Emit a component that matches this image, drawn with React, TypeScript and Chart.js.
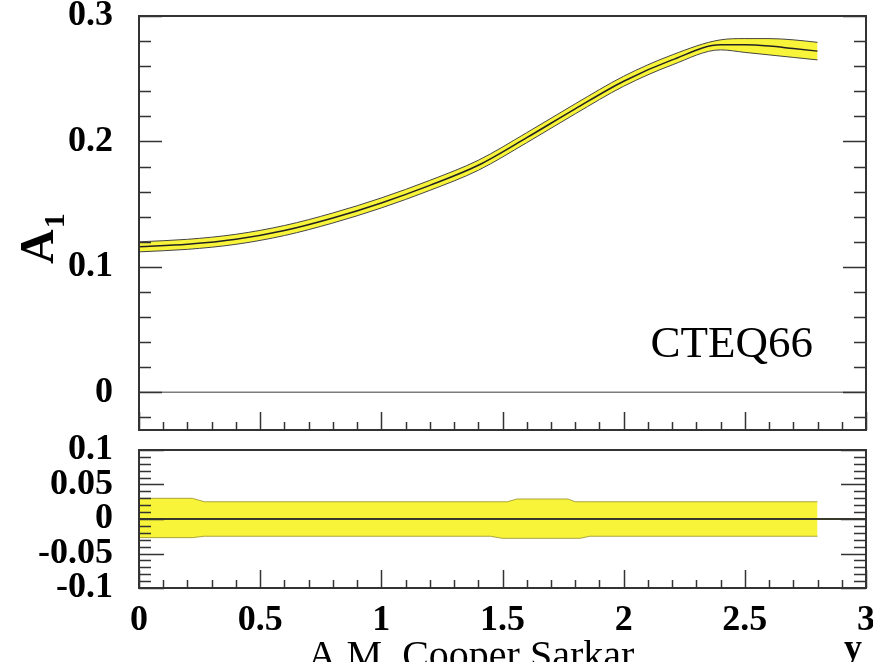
import React, { useEffect, useRef } from "react";
import { Chart, registerables } from "chart.js";

Chart.register(...registerables);

// ---------- data ----------
const rapidity = [0, 0.2, 0.4, 0.6, 0.8, 1.0, 1.2, 1.4, 1.6, 1.8, 2.0, 2.2, 2.4, 2.5, 2.6, 2.7, 2.8];
const a1Central = [0.116, 0.118, 0.122, 0.129, 0.139, 0.151, 0.165, 0.181, 0.203, 0.226, 0.248, 0.265, 0.277, 0.277, 0.276, 0.274, 0.272];
const a1Upper = [0.12, 0.122, 0.126, 0.133, 0.143, 0.155, 0.169, 0.185, 0.207, 0.23, 0.252, 0.269, 0.281, 0.282, 0.282, 0.281, 0.279];
const a1Lower = [0.112, 0.114, 0.118, 0.125, 0.135, 0.147, 0.161, 0.177, 0.199, 0.222, 0.244, 0.261, 0.273, 0.271, 0.269, 0.267, 0.265];

const ratioRapidity = [0, 0.22, 0.27, 1.45, 1.5, 1.52, 1.56, 1.77, 1.8, 1.82, 1.86, 2.8];
const ratioUpper = [0.03, 0.03, 0.025, 0.025, 0.025, 0.025, 0.029, 0.029, 0.025, 0.025, 0.025, 0.025];
const ratioLower = [-0.027, -0.027, -0.025, -0.025, -0.028, -0.028, -0.028, -0.028, -0.028, -0.028, -0.025, -0.025];

const zeroLineX = [0, 3];
const zeroLineY = [0, 0];

const xTickLabels = ["0", "0.5", "1", "1.5", "2", "2.5", "3"];
const topYTickLabels = ["0", "0.1", "0.2", "0.3"];
const bottomYTickLabels = ["-0.1", "-0.05", "0", "0.05", "0.1"];

// ---------- helpers ----------
const pts = (xs: number[], ys: number[]) => xs.map((x, i) => ({ x, y: ys[i] }));
const fmt = (v: number) => String(Math.round(v * 1000) / 1000);
const SERIF = '"Liberation Serif", "Times New Roman", serif';
const YELLOW = "rgb(248,244,58)";
const BOT_TOP = 400; // page y of bottom canvas

type TickCfg = {
  yMinor: number; yMajor: number; yMinorLen: number; yMajorLen: number;
  xMinor: number; xMajor: number; xMinorLen: number; xMajorLen: number;
};

function framePlugin(cfg: TickCfg) {
  return {
    id: "rootFrame",
    afterDatasetsDraw(chart: any) {
      const { ctx, chartArea: a, scales } = chart;
      const xs = scales.x, ys = scales.y;
      ctx.save();
      ctx.strokeStyle = "#333";
      ctx.lineWidth = 1.5;
      const isMaj = (v: number, m: number) => Math.abs(v / m - Math.round(v / m)) < 1e-6;
      for (let i = Math.ceil(ys.min / cfg.yMinor - 1e-9); i <= Math.floor(ys.max / cfg.yMinor + 1e-9); i++) {
        const v = i * cfg.yMinor;
        const p = Math.round(ys.getPixelForValue(v)) + 0.5;
        const len = isMaj(v, cfg.yMajor) ? cfg.yMajorLen : cfg.yMinorLen;
        ctx.beginPath();
        ctx.moveTo(a.left, p); ctx.lineTo(a.left + len, p);
        ctx.moveTo(a.right, p); ctx.lineTo(a.right - len, p);
        ctx.stroke();
      }
      for (let i = Math.ceil(xs.min / cfg.xMinor - 1e-9); i <= Math.floor(xs.max / cfg.xMinor + 1e-9); i++) {
        const v = i * cfg.xMinor;
        const p = Math.round(xs.getPixelForValue(v)) + 0.5;
        const len = isMaj(v, cfg.xMajor) ? cfg.xMajorLen : cfg.xMinorLen;
        ctx.beginPath();
        ctx.moveTo(p, a.bottom); ctx.lineTo(p, a.bottom - len);
        ctx.stroke();
      }
      ctx.lineWidth = 2;
      ctx.strokeRect(a.left, a.top, a.right - a.left, a.bottom - a.top);
      ctx.restore();
    },
  };
}

const tickFont = { family: SERIF, weight: "bold" as const, size: 36 };

export default function App() {
  const topRef = useRef<HTMLCanvasElement>(null);
  const botRef = useRef<HTMLCanvasElement>(null);

  useEffect(() => {
    const topTextPlugin = {
      id: "topText",
      afterDraw(chart: any) {
        const ctx = chart.ctx;
        ctx.save();
        ctx.fillStyle = "#000";
        ctx.font = `45px ${SERIF}`;
        ctx.textAlign = "right";
        ctx.textBaseline = "alphabetic";
        ctx.fillText("CTEQ66", 813, 357);
        ctx.translate(53, 264);
        ctx.rotate(-Math.PI / 2);
        ctx.textAlign = "left";
        ctx.font = `bold 48px ${SERIF}`;
        ctx.fillText("A", 0, 0);
        const w = ctx.measureText("A").width;
        ctx.font = `bold 30px ${SERIF}`;
        ctx.fillText("1", w + 1, 11);
        ctx.restore();
      },
    };
    const botTextPlugin = {
      id: "botText",
      afterDraw(chart: any) {
        const ctx = chart.ctx;
        ctx.save();
        ctx.fillStyle = "#000";
        ctx.textBaseline = "alphabetic";
        ctx.textAlign = "center";
        ctx.font = `40px ${SERIF}`;
        ctx.fillText("A.M. Cooper Sarkar", 471, 668 - BOT_TOP);
        ctx.font = `bold 36px ${SERIF}`;
        ctx.fillText("y", 853, 659 - BOT_TOP);
        ctx.restore();
      },
    };

    const top = new Chart(topRef.current!, {
      type: "line",
      data: {
        datasets: [
          { data: pts(rapidity, a1Central), borderColor: "#222", borderWidth: 1.5, pointRadius: 0, cubicInterpolationMode: "monotone", fill: false },
          { data: pts(rapidity, a1Upper), borderColor: "#444", borderWidth: 1, pointRadius: 0, cubicInterpolationMode: "monotone", fill: "+1", backgroundColor: YELLOW },
          { data: pts(rapidity, a1Lower), borderColor: "#444", borderWidth: 1, pointRadius: 0, cubicInterpolationMode: "monotone", fill: false },
          { data: pts(zeroLineX, zeroLineY), borderColor: "rgba(110,110,110,0.9)", borderWidth: 1.5, pointRadius: 0, fill: false },
        ],
      },
      options: {
        responsive: false,
        animation: false,
        devicePixelRatio: 1,
        layout: { padding: { left: 0, top: 16, right: 34, bottom: 10 } },
        plugins: { legend: { display: false }, tooltip: { enabled: false }, filler: { drawTime: "beforeDatasetsDraw" } },
        scales: {
          x: { type: "linear", min: 0, max: 3, display: false },
          y: {
            type: "linear", min: -0.03, max: 0.3,
            afterFit: (s: any) => { s.width = 139; s.paddingTop = 0; s.paddingBottom = 0; },
            grid: { display: false, drawTicks: false },
            border: { display: false },
            ticks: {
              stepSize: 0.1, includeBounds: false, autoSkip: false, padding: 26, color: "#000", font: tickFont,
              callback: (v: any) => (topYTickLabels.includes(fmt(v)) ? fmt(v) : ""),
            },
          },
        },
      } as any,
      plugins: [framePlugin({ yMinor: 0.02, yMajor: 0.1, yMinorLen: 12, yMajorLen: 23, xMinor: 0.1, xMajor: 0.5, xMinorLen: 8, xMajorLen: 18 }), topTextPlugin],
    });

    const bot = new Chart(botRef.current!, {
      type: "line",
      data: {
        datasets: [
          { data: pts(zeroLineX, zeroLineY), borderColor: "#3a3a2a", borderWidth: 2, pointRadius: 0, fill: false },
          { data: pts(ratioRapidity, ratioUpper), borderColor: "rgba(150,145,40,0.8)", borderWidth: 1, pointRadius: 0, tension: 0, fill: "+1", backgroundColor: YELLOW },
          { data: pts(ratioRapidity, ratioLower), borderColor: "rgba(150,145,40,0.8)", borderWidth: 1, pointRadius: 0, tension: 0, fill: false },
        ],
      },
      options: {
        responsive: false,
        animation: false,
        devicePixelRatio: 1,
        layout: { padding: { left: 0, top: 450 - BOT_TOP, right: 34, bottom: 0 } },
        plugins: { legend: { display: false }, tooltip: { enabled: false }, filler: { drawTime: "beforeDatasetsDraw" } },
        scales: {
          x: {
            type: "linear", min: 0, max: 3,
            afterFit: (s: any) => { s.height = 680 - 588; s.paddingLeft = 0; s.paddingRight = 0; },
            grid: { display: false, drawTicks: false },
            border: { display: false },
            ticks: {
              stepSize: 0.5, padding: 11, maxRotation: 0, autoSkip: false, color: "#000", font: tickFont,
              callback: (v: any) => (xTickLabels.includes(fmt(v)) ? fmt(v) : ""),
            },
          },
          y: {
            type: "linear", min: -0.1, max: 0.1,
            afterFit: (s: any) => { s.width = 139; s.paddingTop = 0; s.paddingBottom = 0; },
            grid: { display: false, drawTicks: false },
            border: { display: false },
            ticks: {
              stepSize: 0.05, autoSkip: false, padding: 26, color: "#000", font: tickFont,
              callback: (v: any) => (bottomYTickLabels.includes(fmt(v)) ? fmt(v) : ""),
            },
          },
        },
      } as any,
      plugins: [framePlugin({ yMinor: 0.01, yMajor: 0.05, yMinorLen: 12, yMajorLen: 25, xMinor: 0.1, xMajor: 0.5, xMinorLen: 8, xMajorLen: 18 }), botTextPlugin],
    });

    return () => { top.destroy(); bot.destroy(); };
  }, []);

  return (
    <div style={{ position: "fixed", left: 0, top: 0, width: 873, height: 662, overflow: "hidden", background: "#fff" }}>
      <canvas ref={topRef} width={900} height={440} style={{ position: "absolute", left: 0, top: 0, width: 900, height: 440 }} />
      <canvas ref={botRef} width={900} height={680 - BOT_TOP} style={{ position: "absolute", left: 0, top: BOT_TOP, width: 900, height: 680 - BOT_TOP }} />
    </div>
  );
}
